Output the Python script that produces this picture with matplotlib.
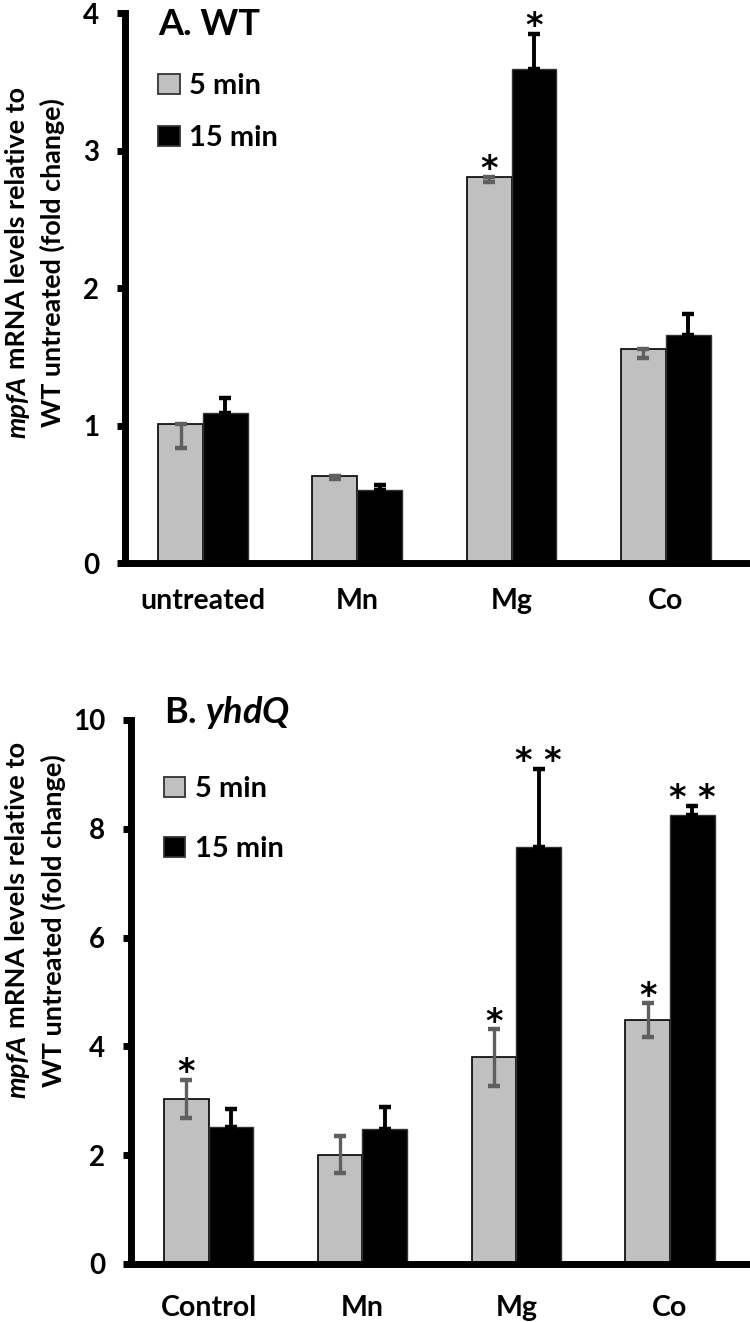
# mpfA expression bar charts (WT and yhdQ)

import numpy as np
import matplotlib.pyplot as plt
from matplotlib.patches import Rectangle
from matplotlib.transforms import IdentityTransform

plt.rcParams['font.family'] = ['Lato', 'DejaVu Sans']
plt.rcParams['font.weight'] = 'bold'
plt.rcParams['mathtext.fontset'] = 'custom'
plt.rcParams['mathtext.it'] = 'Lato:italic:bold'
plt.rcParams['mathtext.bf'] = 'Lato:bold'
plt.rcParams['mathtext.rm'] = 'Lato:bold'

# Panel A - WT
cats_a = ['untreated', 'Mn', 'Mg', 'Co']
wt_5 = [1.01, 0.63, 2.81, 1.56]
wt_5_err_lo = [0.17, 0.02, 0.04, 0.07]
wt_15 = [1.09, 0.53, 3.59, 1.66]
wt_15_err = [0.11, 0.04, 0.26, 0.15]
wt_5_stars = ['', '', '*', '']
wt_15_stars = ['', '', '*', '']

# Panel B - yhdQ
cats_b = ['Control', 'Mn', 'Mg', 'Co']
yh_5 = [3.04, 2.01, 3.80, 4.48]
yh_5_err = [0.35, 0.34, 0.52, 0.31]
yh_15 = [2.51, 2.49, 7.67, 8.26]
yh_15_err = [0.33, 0.40, 1.43, 0.16]
yh_5_stars = ['*', '', '*', '*']
yh_15_stars = ['', '', '* *', '* *']

ylab_line1 = [('mpfA', 'italic'), ('mRNA levels relative to', 'normal')]
ylab_line2 = [('WT untreated (fold change)', 'normal')]
LABEL_FONT = ['Liberation Sans Narrow', 'Lato', 'DejaVu Sans']

GRAY = '#c0c0c0'
ERR_GRAY = '#5f5f5f'
W = 0.29

fig = plt.figure(figsize=(7.5, 13.22), dpi=100)
ax_a = fig.add_axes([0.1667, 0.5741, 0.828, 0.416])
ax_b = fig.add_axes([0.1747, 0.0439, 0.8253, 0.4115])
renderer = fig.canvas.get_renderer()


def rotated_label(ax, yc_frac, base_x, target_len):
    # two-line vertical label with an italic gene name
    yc = ax.transAxes.transform((0, yc_frac))[1]
    lines = []
    for line in (ylab_line1, ylab_line2):
        lines.append([fig.text(0, 0, s, fontsize=20, fontstyle=style, fontweight='bold',
                               family=LABEL_FONT, rotation=90, rotation_mode='anchor',
                               ha='left', va='baseline', transform=IdentityTransform())
                      for s, style in line])

    def measure(texts, fs):
        gap = 0.24 * fs * 100 / 72
        lens = [t.get_window_extent(renderer).height for t in texts]
        return lens, sum(lens) + gap * (len(texts) - 1), gap

    _, L1, _ = measure(lines[0], 20)
    fs = 20 * target_len / L1
    for texts in lines:
        for t in texts:
            t.set_fontsize(fs)
    for texts, bx in zip(lines, base_x):
        lens, total, gap = measure(texts, fs)
        y = yc - total / 2
        for t, L in zip(texts, lens):
            t.set_position((bx, y))
            y += L + gap


def draw_panel(ax, cats, v5, e5_lo, e5_hi, v15, e15, s5, s15, ymax, step,
               title, title_y, leg_y, xpad):
    x = np.arange(len(cats))
    ax.bar(x - W / 2, v5, W, color=GRAY, edgecolor='black', linewidth=1.2, zorder=2)
    ax.bar(x + W / 2, v15, W, color='black', edgecolor='#333333', linewidth=1.0, zorder=2)
    ax.errorbar(x - W / 2, v5, yerr=[e5_lo, e5_hi], fmt='none', ecolor=ERR_GRAY,
                elinewidth=2.4, capsize=4.5, capthick=3.2, zorder=3)
    ax.errorbar(x + W / 2, v15, yerr=[np.zeros(len(v15)), e15], fmt='none',
                ecolor='black', elinewidth=2.8, capsize=4.5, capthick=3.2, zorder=3)

    # significance stars above the error bars
    for i in range(len(cats)):
        for s, xx, top in [(s5[i], x[i] - W / 2, v5[i] + e5_hi[i]),
                           (s15[i], x[i] + W / 2, v15[i] + e15[i])]:
            if s:
                ax.annotate(s, xy=(xx, top), xytext=(0, 5), textcoords='offset points',
                            ha='center', va='center', fontsize=24, fontweight='bold',
                            family='DejaVu Sans', annotation_clip=False)

    ax.set_xlim(-0.505, len(cats) - 0.48)
    ax.set_ylim(0, ymax)
    ax.set_yticks(np.arange(0, ymax + 0.01, step))
    ax.set_xticks(x)
    ax.set_xticklabels(cats, fontsize=20.5, fontweight='bold')
    ax.tick_params(axis='y', labelsize=20, length=5.5, width=5, pad=13)
    ax.tick_params(axis='x', length=0, pad=xpad)
    for t in ax.get_yticklabels():
        t.set_fontweight('bold')
    for side in ['top', 'right']:
        ax.spines[side].set_visible(False)
    ax.spines['left'].set_linewidth(5)
    ax.spines['bottom'].set_linewidth(5)

    ax.text(0.053, title_y, title, transform=ax.transAxes, fontsize=26,
            fontweight='bold', ha='left', va='baseline')

    # legend drawn by hand: squares + labels
    for (y0, fc, lab) in [(leg_y[0], GRAY, '5 min'), (leg_y[1], 'black', '15 min')]:
        ax.add_patch(Rectangle((0.053, y0), 0.035, 0.037, transform=ax.transAxes,
                               facecolor=fc, edgecolor='#333333', linewidth=1.3,
                               clip_on=False))
        ax.text(0.103, y0, lab, transform=ax.transAxes, fontsize=21,
                fontweight='bold', ha='left', va='baseline')


draw_panel(ax_a, cats_a, wt_5, wt_5_err_lo, [0, 0, 0, 0], wt_15, wt_15_err,
           wt_5_stars, wt_15_stars, 4, 1, 'A. WT', 0.96, (0.853, 0.758), 18)
draw_panel(ax_b, cats_b, yh_5, yh_5_err, yh_5_err, yh_15, yh_15_err,
           yh_5_stars, yh_15_stars, 10, 2, 'B. $\\it{yhdQ}$', 0.994, (0.858, 0.748), 22)

rotated_label(ax_a, 0.547, (25, 61), 350)
rotated_label(ax_b, 0.632, (25, 62), 355)

fig.savefig('out.png', dpi=100)
